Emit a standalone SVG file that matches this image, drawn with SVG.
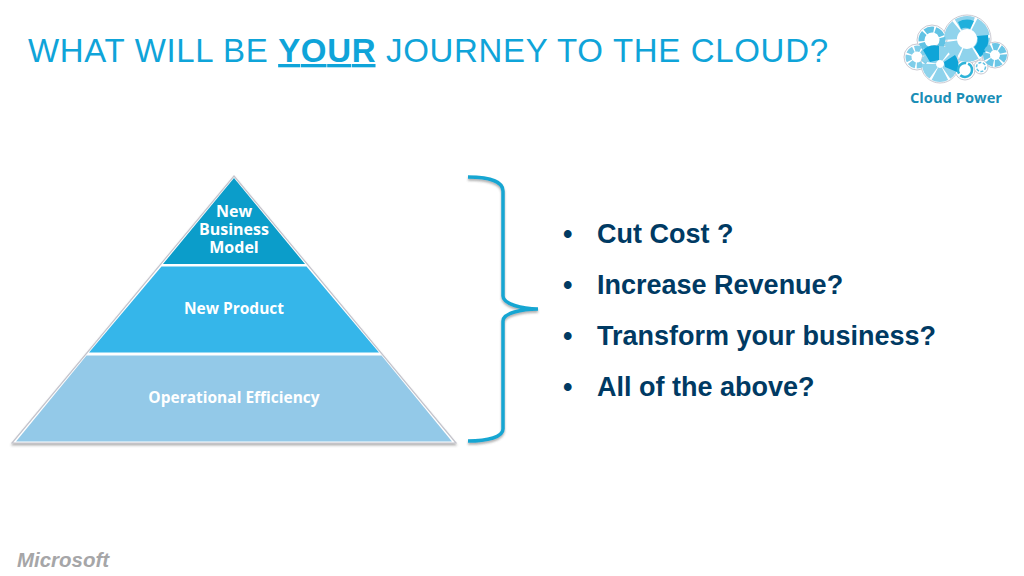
<svg xmlns="http://www.w3.org/2000/svg" width="1024" height="576" viewBox="0 0 1024 576">
<defs>
<filter id="sh" x="-20%" y="-20%" width="140%" height="140%"><feDropShadow dx="0" dy="2" stdDeviation="1.2" flood-color="#555" flood-opacity="0.45"/></filter>
</defs>
<style>
.title{font:33px "Liberation Sans",Arial,sans-serif;fill:#0fa4d9}
.pl{font-family:"Open Sans","Noto Sans",sans-serif;font-weight:700;fill:#fff;text-anchor:middle}
.b{font:bold 27px "Liberation Sans",Arial,sans-serif;fill:#003a63}
.ring{fill:none}
.cb{fill:#fff;stroke:#c9c9d2;stroke-width:1}
</style>
<rect width="1024" height="576" fill="#fff"/>
<text id="title" class="title" x="28" y="62" textLength="800" lengthAdjust="spacing">WHAT WILL BE <tspan font-weight="700" text-decoration="underline">YOUR</tspan> JOURNEY TO THE CLOUD?</text>

<g id="logo">
<circle class="cb" cx="967" cy="39" r="24"/><circle class="cb" cx="932" cy="40" r="15"/><circle class="cb" cx="917" cy="57" r="13"/><circle class="cb" cx="995" cy="55" r="13"/><circle class="cb" cx="940" cy="64" r="19"/><circle class="cb" cx="965" cy="70" r="10"/><circle class="cb" cx="981" cy="67" r="7"/>
<circle class="ring" cx="967" cy="39" r="16.5" stroke="#8fd3ec" stroke-width="13" stroke-dasharray="15 2"/>
<path d="M958 22 A19 19 0 0 1 974 21 L970 29 A9 9 0 0 0 961 29Z" fill="#1fb0dc"/>
<path d="M988 35 A22 22 0 0 1 980 57 L974 47 A10 10 0 0 0 977 36Z" fill="#0fa5d8"/>
<circle class="ring" cx="932" cy="40" r="10.5" stroke="#62c3e4" stroke-width="6" stroke-dasharray="9 1.5"/>
<circle class="ring" cx="917" cy="57" r="8.5" stroke="#7fcde9" stroke-width="6" stroke-dasharray="6 1.5"/>
<circle class="ring" cx="995" cy="55" r="8.5" stroke="#6bc6e6" stroke-width="7" stroke-dasharray="6 1.5"/>
<circle class="ring" cx="940" cy="64" r="11" stroke="#8ed3ec" stroke-width="14" stroke-dasharray="10.5 1.5"/>
<path d="M930 62 L923 50 A17 17 0 0 1 939 46 L939 60Z M944 62 L955 55 A17 17 0 0 1 957 72 L945 67Z" fill="#0fa5d8"/>
<circle class="ring" cx="965" cy="70" r="7" stroke="#2db3d8" stroke-width="2.5" stroke-dasharray="16 2"/>
<circle class="ring" cx="981" cy="67" r="4.5" stroke="#62c3e4" stroke-width="1.5" stroke-dasharray="3 1.5"/>
<text x="956" y="103" font-family="'Open Sans','Noto Sans',sans-serif" font-weight="700" font-size="14" fill="#1a8eb6" text-anchor="middle" textLength="92" lengthAdjust="spacingAndGlyphs">Cloud Power</text>
</g>

<g id="pyramid-outline"><path d="M234 176 L456 443 L12 443Z" fill="#fff" stroke="#c4c4cc" stroke-width="1.2" filter="url(#sh)"/></g>
<g id="tier-top">
<path d="M234 178 L305 264 L163 264Z" fill="#0b9dca"/>
<text class="pl" font-size="16" x="234" y="217">New</text><text class="pl" font-size="16" x="234" y="235">Business</text><text class="pl" font-size="16" x="234" y="253">Model</text>
</g>
<g id="tier-middle">
<path d="M161.500 266.500 L306.500 266.500 L379 352.500 L89 352.500Z" fill="#35b6ea"/>
<text class="pl" font-size="15.500" x="234" y="314">New Product</text>
</g>
<g id="tier-bottom">
<path d="M86.500 355.500 L381.500 355.500 L452 441.500 L16 441.500Z" fill="#93c9e8"/>
<text class="pl" font-size="15.500" x="234" y="403">Operational Efficiency</text>
</g>

<g id="connectors"><path id="brace" d="M468 177 C488 177 503 181 503 191 L503 296 C503 304 522 309 538 309 C522 309 503 313 503 321 L503 429 C503 437 488 441 468 441" fill="none" stroke="#18a6d2" stroke-width="3.500" filter="url(#sh)"/></g>

<g id="list">
<text class="b" x="563" y="243">•</text><text class="b" x="597" y="243">Cut Cost ?</text>
<text class="b" x="563" y="294">•</text><text class="b" x="597" y="294">Increase Revenue?</text>
<text class="b" x="563" y="345">•</text><text class="b" x="597" y="345">Transform your business?</text>
<text class="b" x="563" y="396">•</text><text class="b" x="597" y="396">All of the above?</text>
</g>

<g id="microsoft"><text x="17" y="567" font-family="'Liberation Sans',Arial,sans-serif" font-weight="700" font-style="italic" font-size="21" fill="#a6a6a8" textLength="92" lengthAdjust="spacingAndGlyphs">Microsoft</text></g>
</svg>
